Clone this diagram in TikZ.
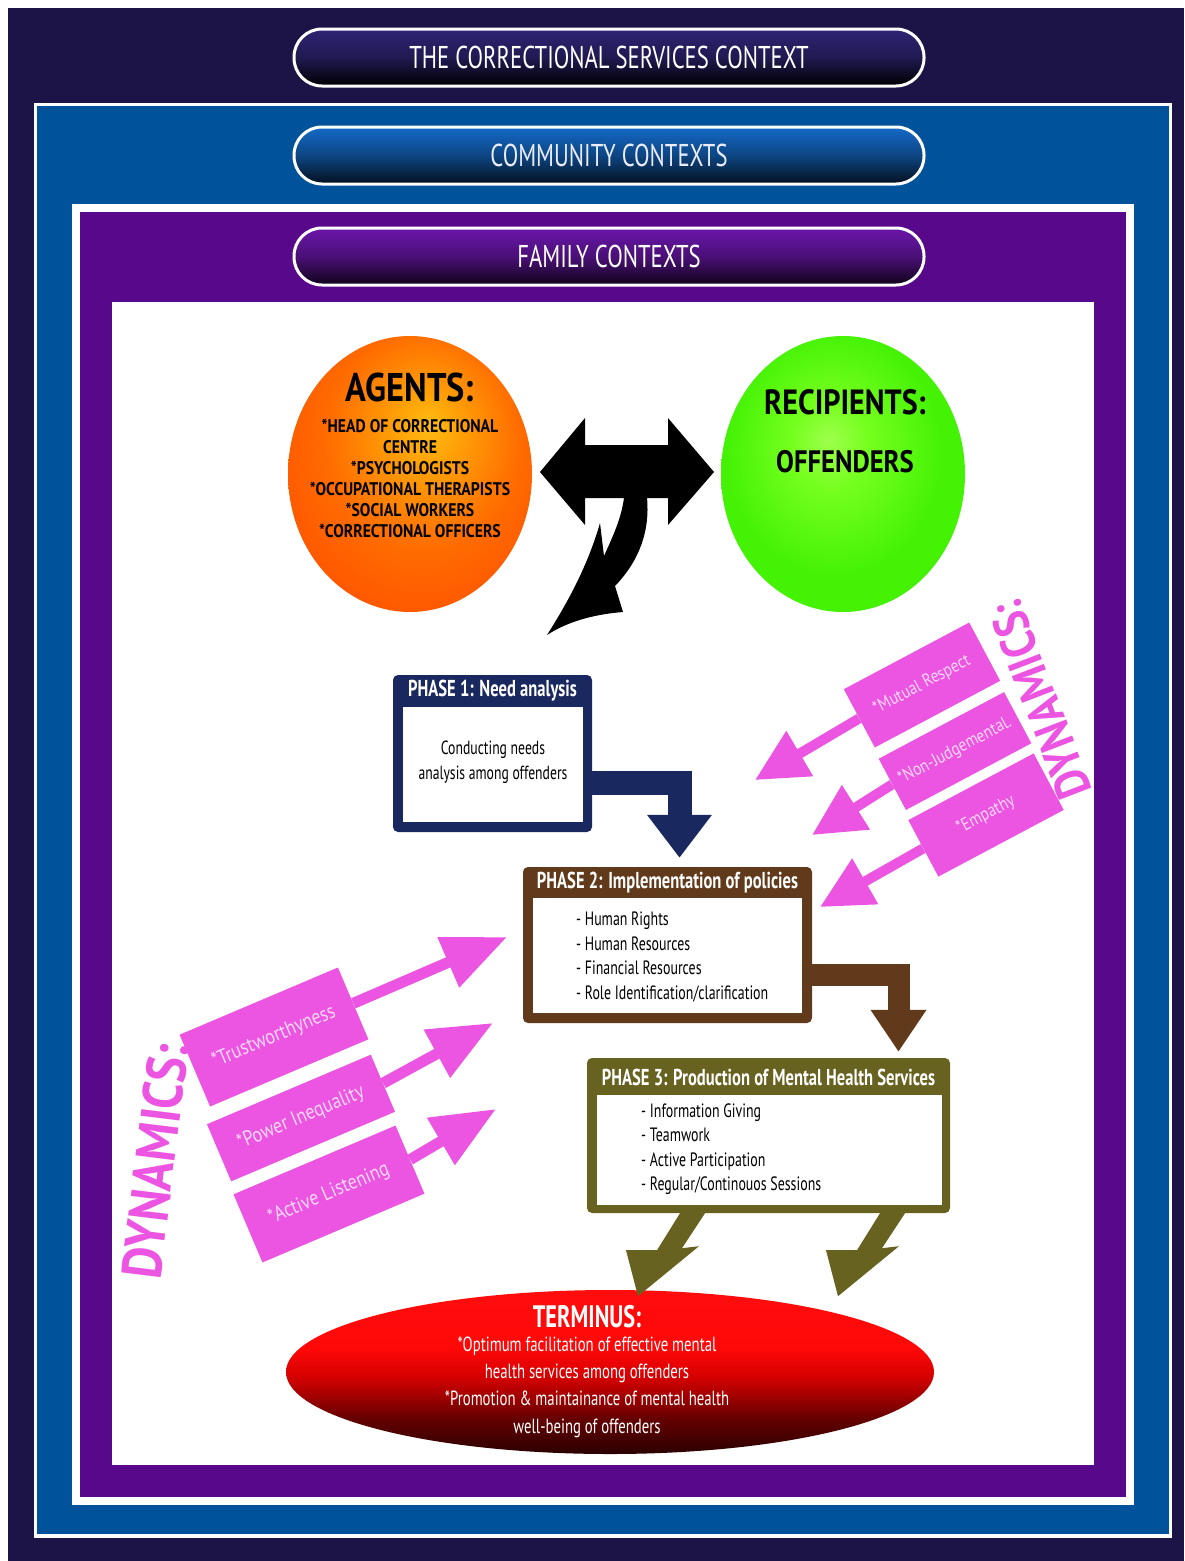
\documentclass[tikz,border=0pt]{standalone}
\usepackage{fontspec}
\setmainfont{PT Sans}
\newfontfamily\cnd[FakeStretch=0.72]{PT Sans}
\newfontfamily\semi[FakeStretch=0.86]{PT Sans}
\usetikzlibrary{shapes.geometric,arrows.meta,calc}

\definecolor{navybg}{RGB}{28,20,70}
\definecolor{commblue}{RGB}{0,82,155}
\definecolor{famviolet}{RGB}{88,8,138}
\definecolor{bantopA}{RGB}{46,36,116}
\definecolor{bantopB}{RGB}{20,106,200}
\definecolor{bantopC}{RGB}{106,22,170}
\definecolor{phnavy}{RGB}{26,40,96}
\definecolor{phbrown}{RGB}{96,58,26}
\definecolor{pholive}{RGB}{104,98,32}
\definecolor{dynpink}{RGB}{236,84,226}
\definecolor{dyntext}{RGB}{255,216,250}

% glow of the two actor circles and the terminus
\pgfdeclareradialshading{agentglow}{\pgfpoint{4bp}{9bp}}{%
  rgb(0bp)=(1,0.74,0.08); rgb(6bp)=(1,0.64,0.03);
  rgb(20bp)=(1,0.42,0); rgb(32bp)=(1,0.33,0); rgb(60bp)=(1,0.3,0)}
\pgfdeclareradialshading{recipglow}{\pgfpoint{-3bp}{6bp}}{%
  rgb(0bp)=(0.62,1,0.3); rgb(8bp)=(0.46,1,0.12);
  rgb(22bp)=(0.27,0.95,0.02); rgb(60bp)=(0.24,0.93,0)}
\pgfdeclareverticalshading{termshade}{100bp}{%
  rgb(0bp)=(0.15,0,0); rgb(25bp)=(0.17,0,0); rgb(36bp)=(0.4,0,0);
  rgb(48bp)=(0.82,0,0); rgb(57bp)=(1,0.03,0.03); rgb(100bp)=(1,0.08,0.08)}

\begin{document}
\begin{tikzpicture}[x=1pt,y=-1pt,
  banner/.style={draw=white, line width=3pt, rounded corners=28pt,
    minimum width=630, minimum height=57, inner sep=0pt,
    font=\cnd\fontsize{31.5}{34}\selectfont},
  phaseframe/.style={fill=#1, rounded corners=5pt, inner sep=0pt},
  phasebody/.style={fill=white, inner sep=0pt},
  phasetitle/.style={inner sep=0pt, text=white,
    font=\cnd\bfseries\fontsize{23}{25}\selectfont},
  phaseitems/.style={inner sep=0pt, align=left, text=black,
    font=\cnd\fontsize{19.3}{24.5}\selectfont},
  dynbox/.style={fill=dynpink, inner sep=0pt, text=dyntext},
  dynlabel/.style={inner sep=0pt, text=dynpink,
    font=\semi\bfseries\fontsize{#1}{#1}\selectfont},
  blacktext/.style={inner sep=0pt, text=black, align=center},
  whitetext/.style={inner sep=0pt, text=white, align=center}
]
\useasboundingbox (0,0) rectangle (1184,1561);

% nested context frames
\fill[white] (0,0) rectangle (1184,1561);
\fill[navybg] (8,8) rectangle (1184,1561);
\fill[white] (34,103) rectangle (1172,1538);
\fill[commblue] (37,106) rectangle (1169,1534);
\fill[white] (72,204) rectangle (1134,1505);
\fill[famviolet] (80,212) rectangle (1126,1497);
\fill[white] (112,302) rectangle (1094,1465);

% context banners
\node[banner, top color=bantopA, bottom color=black, middle color=bantopA!70!black,
  text=white] (ctxcorr) at (609,57.5) {THE CORRECTIONAL SERVICES CONTEXT};
\node[banner, top color=bantopB, bottom color=black!85!bantopB, middle color=bantopB!65!black,
  text=blue!8!white] (ctxcomm) at (609,155.5) {COMMUNITY CONTEXTS};
\node[banner, top color=bantopC, bottom color=black!85!bantopC, middle color=bantopC!70!black,
  text=white] (ctxfam) at (609,256.5) {FAMILY CONTEXTS};

% actors
\node[ellipse, minimum width=244, minimum height=276, shade, shading=agentglow] (agents) at (410,474) {};
\node[blacktext, font=\semi\bfseries\fontsize{40}{42}\selectfont] (agtitle) at (410,387) {AGENTS:};
\node[blacktext, font=\semi\bfseries\fontsize{18.3}{21}\selectfont] (aglist) at (410,478)
  {*HEAD OF CORRECTIONAL\\CENTRE\\*PSYCHOLOGISTS\\*OCCUPATIONAL THERAPISTS\\*SOCIAL WORKERS\\*CORRECTIONAL OFFICERS};

\node[ellipse, minimum width=244, minimum height=276, shade, shading=recipglow] (recip) at (843,474) {};
\node[blacktext, font=\semi\bfseries\fontsize{35}{38}\selectfont] (rctitle) at (845,402) {RECIPIENTS:};
\node[blacktext, font=\semi\bfseries\fontsize{31}{33}\selectfont] (rcname) at (845,462) {OFFENDERS};

% two-way exchange with a branch turning down to the phases
\fill[black] (540,472) -- (585,418) -- (585,445) -- (668,445) -- (668,418) -- (714,472)
  -- (668,525) -- (668,498) -- (647,498)
  .. controls (650,530) and (640,560) .. (615,586)
  -- (623,612)
  .. controls (598,614) and (570,620) .. (547,635)
  .. controls (568,602) and (588,565) .. (600,523)
  -- (604,556)
  .. controls (612,538) and (621,520) .. (624,498)
  -- (585,498) -- (585,525) -- cycle;

% phase 1
\node[phaseframe=phnavy, minimum width=199, minimum height=157] (p1) at (492.5,753.5) {};
\node[phasebody, minimum width=180, minimum height=115] (p1body) at (493,764.5) {};
\node[phasetitle] (p1title) at (492.5,691) {PHASE 1: Need analysis};
\node[blacktext, font=\cnd\fontsize{19}{25}\selectfont] (p1text) at (493,762)
  {Conducting needs\\analysis among offenders};

% phase 2
\node[phaseframe=phbrown, minimum width=289, minimum height=156] (p2) at (667.5,945) {};
\node[phasebody, minimum width=269, minimum height=115] (p2body) at (667.5,955.5) {};
\node[phasetitle] (p2title) at (667.5,883) {PHASE 2: Implementation of policies};
\node[phaseitems, anchor=west] (p2items) at (576,957)
  {- Human Rights\\- Human Resources\\- Financial Resources\\- Role Identification/clarification};

% phase 3
\node[phaseframe=pholive, minimum width=363, minimum height=155] (p3) at (768.5,1135.5) {};
\node[phasebody, minimum width=345, minimum height=110] (p3body) at (769.5,1150) {};
\node[phasetitle] (p3title) at (768.5,1077) {PHASE 3: Production of Mental Health Services};
\node[phaseitems, anchor=west] (p3items) at (641,1149)
  {- Information Giving\\- Teamwork\\- Active Participation\\- Regular/Continouos Sessions};

% flow between the phases
\draw[phnavy, line width=24pt, -{Triangle[width=62pt,length=43pt]}, shorten >=9pt]
  ([yshift=-29.5pt]p1.east) -| ([xshift=12pt]p2.north);
\draw[phbrown, line width=22pt, -{Triangle[width=53pt,length=42pt]}, shorten >=6pt]
  ([yshift=-30pt]p2.east) -| ([xshift=130pt]p3.north);

% terminus
\node[ellipse, minimum width=648, minimum height=164, shade, shading=termshade] (term) at (610,1372) {};
\node[whitetext, font=\cnd\bfseries\fontsize{31}{33}\selectfont] (termtitle) at (587,1317) {TERMINUS:};
\node[whitetext, font=\cnd\fontsize{20.5}{27.3}\selectfont] (termtext) at (587,1387)
  {*Optimum facilitation of effective mental\\health services among offenders\\*Promotion \& maintainance of mental health\\well-being of offenders};

% phase 3 feeds the terminus
\fill[pholive] ([xshift=-88.5pt]p3.south) -- ++(25,0) -- ++(-23,35) -- ++(17,-2)
  -- ++(-61,50) -- ++(-12,-46) -- ++(31,0) -- cycle;
\fill[pholive] ([xshift=111.5pt]p3.south) -- ++(25,0) -- ++(-23,35) -- ++(17,-2)
  -- ++(-61,50) -- ++(-12,-46) -- ++(31,0) -- cycle;

% dynamics acting on phase 2 from the right
\node[dynbox, rotate=28, minimum width=142, minimum height=66,
  font=\semi\fontsize{18}{20}\selectfont] (rb1) at (922,685) {*Mutual Respect};
\node[dynbox, rotate=28, minimum width=142, minimum height=58,
  font=\semi\fontsize{18}{20}\selectfont] (rb2) at (955,751) {*Non-Judgemental.};
\node[dynbox, rotate=28, minimum width=142, minimum height=64,
  font=\semi\fontsize{18}{20}\selectfont] (rb3) at (986,815) {*Empathy};
\node[dynlabel=49, rotate=111] (dynR) at (1040,700) {DYNAMICS:};
\coordinate (rt1) at (755,780);
\coordinate (rt2) at (812,835);
\coordinate (rt3) at (820,907);
\draw[dynpink, line width=10pt, -{Triangle[width=50pt,length=52pt]}] (rb1.west) -- (rt1);
\draw[dynpink, line width=10pt, -{Triangle[width=50pt,length=52pt]}] (rb2.west) -- (rt2);
\draw[dynpink, line width=10pt, -{Triangle[width=50pt,length=52pt]}] (rb3.west) -- (rt3);

% dynamics acting on phase 2 from the left
\node[dynbox, rotate=23, minimum width=172, minimum height=78,
  font=\semi\fontsize{21}{23}\selectfont] (lb1) at (274,1037) {*Trustworthyness};
\node[dynbox, rotate=23, minimum width=178, minimum height=62,
  font=\semi\fontsize{21}{23}\selectfont] (lb2) at (301,1118) {*Power Inequality};
\node[dynbox, rotate=23, minimum width=176, minimum height=74,
  font=\semi\fontsize{21}{23}\selectfont] (lb3) at (329,1194) {*Active Listening};
\node[dynlabel=56, rotate=83] (dynL) at (155,1161) {DYNAMICS:};
\coordinate (lt1) at (507,937);
\coordinate (lt2) at (493,1023);
\coordinate (lt3) at (496,1109);
\draw[dynpink, line width=11pt, -{Triangle[width=52pt,length=64pt]}] (lb1.east) -- (lt1);
\draw[dynpink, line width=11pt, -{Triangle[width=52pt,length=64pt]}] (lb2.east) -- (lt2);
\draw[dynpink, line width=11pt, -{Triangle[width=52pt,length=64pt]}] (lb3.east) -- (lt3);
\end{tikzpicture}
\end{document}
